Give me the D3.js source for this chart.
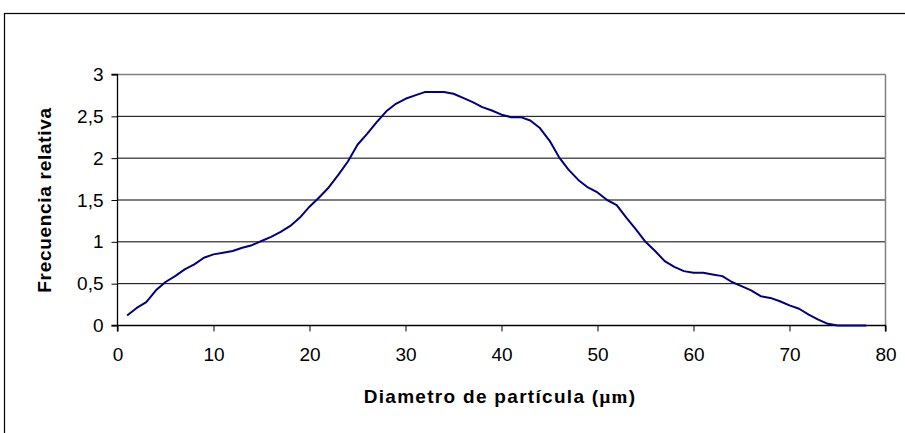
<!DOCTYPE html>
<html>
<head>
<meta charset="utf-8">
<script src="https://cdn.jsdelivr.net/npm/d3@7"></script>
<style>
  body { margin: 0; background: #fff; }
  svg { display: block; }
</style>
</head>
<body>
<div id="chart"></div>
<script>
// Diameter (um) and relative frequency
const diameters = [
  1, 2, 3, 4, 5, 6, 7, 8, 9, 10,
  11, 12, 13, 14, 15, 16, 17, 18, 19, 20,
  21, 22, 23, 24, 25, 26, 27, 28, 29, 30,
  31, 32, 33, 34, 35, 36, 37, 38, 39, 40,
  41, 42, 43, 44, 45, 46, 47, 48, 49, 50,
  51, 52, 53, 54, 55, 56, 57, 58, 59, 60,
  61, 62, 63, 64, 65, 66, 67, 68, 69, 70,
  71, 72, 73, 74, 75, 76, 77, 78,
];
const frequencies = [
  0.12, 0.21, 0.28, 0.42, 0.52, 0.59, 0.67, 0.73, 0.81, 0.85,
  0.87, 0.89, 0.93, 0.96, 1.01, 1.06, 1.12, 1.19, 1.29, 1.42,
  1.53, 1.65, 1.80, 1.96, 2.16, 2.29, 2.43, 2.56, 2.65, 2.71,
  2.75, 2.79, 2.79, 2.79, 2.77, 2.72, 2.67, 2.61, 2.57, 2.52,
  2.49, 2.49, 2.45, 2.36, 2.21, 2.01, 1.86, 1.74, 1.65, 1.59,
  1.50, 1.44, 1.29, 1.15, 1.00, 0.89, 0.77, 0.70, 0.65, 0.63,
  0.63, 0.61, 0.59, 0.52, 0.47, 0.42, 0.35, 0.33, 0.29, 0.24,
  0.20, 0.13, 0.07, 0.02, 0.00, 0.00, 0.00, 0.00,
];
const xTicks = [0, 10, 20, 30, 40, 50, 60, 70, 80];
const yTicks = [0, 0.5, 1, 1.5, 2, 2.5, 3];

const W = 905;
const H = 433;
const plot = { left: 117.5, right: 885.5, top: 74.5, bottom: 325.5 };

const svg = d3
  .select('#chart')
  .append('svg')
  .attr('width', W)
  .attr('height', H);

// outer chart frame (runs off the right/bottom edge)
svg
  .append('rect')
  .attr('x', 4.5)
  .attr('y', 13.5)
  .attr('width', 1000)
  .attr('height', 1000)
  .style('fill', 'none')
  .style('stroke', '#000')
  .style('stroke-width', 1.2);

const x = d3.scaleLinear().domain([0, 80]).range([plot.left, plot.right]);
const y = d3.scaleLinear().domain([0, 3]).range([plot.bottom, plot.top]);

const fmt = (d) => String(d).replace('.', ',');

// horizontal gridlines
svg
  .append('g')
  .selectAll('line')
  .data(yTicks.filter((d) => d > 0))
  .enter()
  .append('line')
  .attr('x1', plot.left)
  .attr('x2', plot.right)
  .attr('y1', (d) => y(d))
  .attr('y2', (d) => y(d))
  .style('stroke', (d) => (d === 3 ? '#808080' : '#000'))
  .style('stroke-width', (d) => (d === 3 ? 1.5 : 1));

// right border of the plot area
svg
  .append('line')
  .attr('x1', plot.right)
  .attr('x2', plot.right)
  .attr('y1', plot.top)
  .attr('y2', plot.bottom)
  .style('stroke', '#808080')
  .style('stroke-width', 1.5);

// y axis
const yAxis = svg
  .append('g')
  .attr('transform', `translate(${plot.left},0)`)
  .call(d3.axisLeft(y).tickValues(yTicks).tickSize(6).tickPadding(8).tickFormat(fmt));

// x axis
const xAxis = svg
  .append('g')
  .attr('transform', `translate(0,${plot.bottom})`)
  .call(d3.axisBottom(x).tickValues(xTicks).tickSize(6).tickPadding(16));

[yAxis, xAxis].forEach((ax) => {
  ax.select('.domain').style('stroke', '#000').style('stroke-width', 1.3);
  ax.selectAll('.tick line').style('stroke', '#000');
  ax
    .selectAll('text')
    .style('font-family', '"Liberation Sans", Arial, sans-serif')
    .style('font-size', '19px')
    .style('fill', '#000');
});
yAxis.select('.domain').attr('d', `M-6,${plot.bottom}H0V${plot.top}H-6`);
xAxis.select('.domain').attr('d', `M${plot.left},6V0H${plot.right}V6`);

// curve
const line = d3
  .line()
  .x((d, i) => x(diameters[i]))
  .y((d) => y(d));

svg
  .append('path')
  .datum(frequencies)
  .attr('d', line)
  .style('fill', 'none')
  .style('stroke', '#000080')
  .style('stroke-width', 2)
  .style('stroke-linejoin', 'round');

// axis titles
svg
  .append('text')
  .attr('transform', `translate(51,${(plot.top + plot.bottom) / 2}) rotate(-90)`)
  .attr('text-anchor', 'middle')
  .style('font-family', '"Liberation Sans", Arial, sans-serif')
  .style('font-weight', 'bold')
  .style('font-size', '19px')
  .style('letter-spacing', '0.7px')
  .text('Frecuencia relativa');

const xt = svg
  .append('text')
  .attr('x', 500)
  .attr('y', 403)
  .attr('text-anchor', 'middle')
  .style('font-family', '"Liberation Sans", Arial, sans-serif')
  .style('font-weight', 'bold')
  .style('font-size', '19px')
  .style('letter-spacing', '1.3px');
xt.append('tspan').text('Diametro de partícula (');
xt
  .append('tspan')
  .style('font-family', '"Liberation Serif", "Times New Roman", serif')
  .text('μm');
xt.append('tspan').text(')');
</script>
</body>
</html>
